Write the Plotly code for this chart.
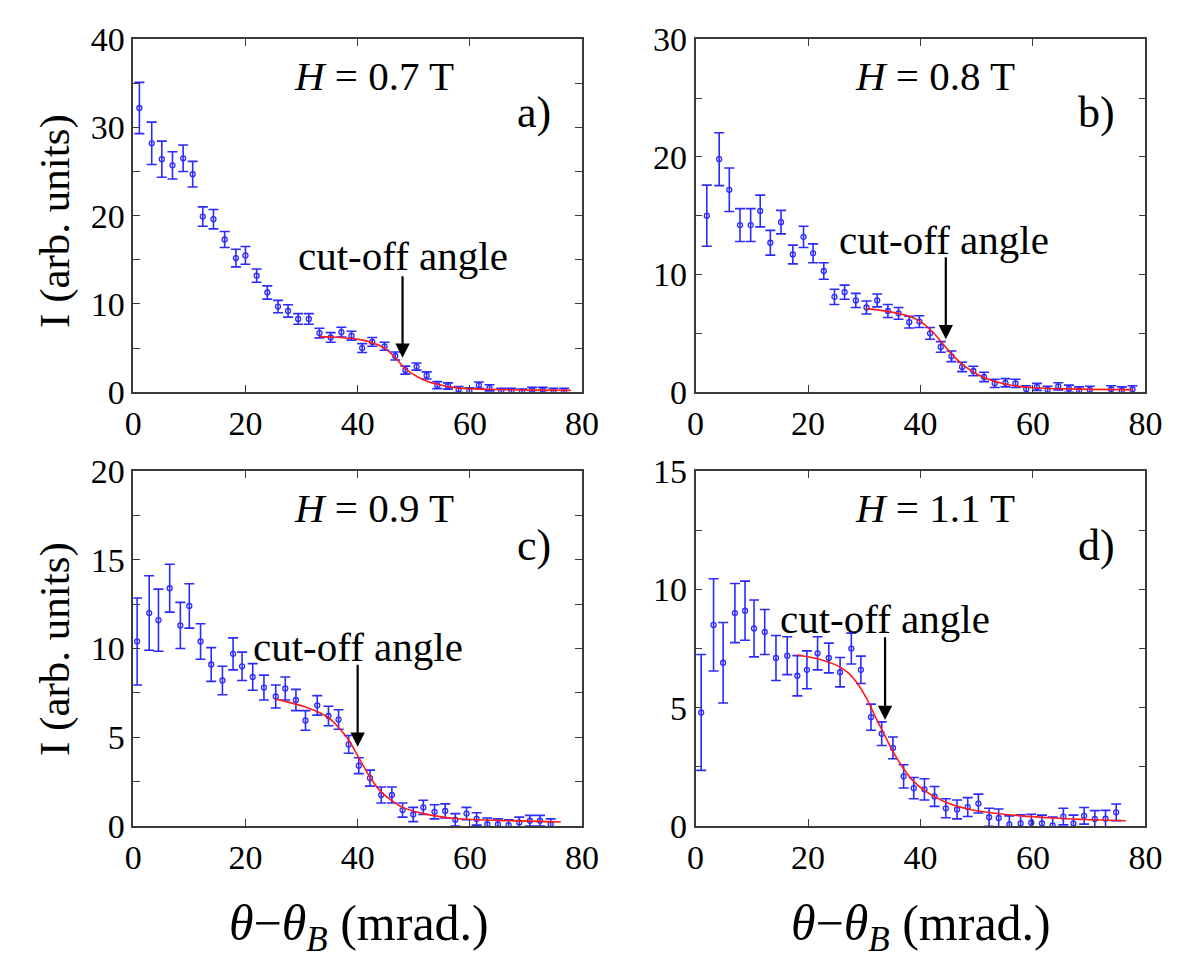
import plotly.graph_objects as go

# ---- measured intensity, H = 0.7 T ----
a_x = [1.1, 3.3, 5.1, 7.0, 8.9, 10.6, 12.4, 14.3, 16.3, 18.3, 20.0, 22.0, 23.9, 25.8, 27.6, 29.4,
       31.3, 33.2, 35.2, 37.1, 38.9, 40.8, 42.6, 44.8, 46.7, 48.5, 50.5, 52.3, 54.2, 56.1, 58.0,
       59.9, 61.6, 63.5, 65.6, 67.4, 69.3, 71.1, 73.0, 74.9, 76.8]
a_y = [32.2, 28.2, 26.4, 25.7, 26.5, 24.7, 19.9, 19.6, 17.3, 15.2, 15.5, 13.2, 11.3, 9.7, 9.2, 8.3,
       8.3, 6.7, 6.2, 6.8, 6.4, 5.0, 5.7, 5.2, 4.1, 2.5, 2.9, 1.9, 0.8, 0.7, 0.3,
       0.15, 0.8, 0.5, 0.15, 0.15, 0.05, 0.25, 0.25, 0.15, 0.15]
a_err = [2.9, 2.4, 2.05, 1.55, 1.5, 1.45, 1.1, 1.1, 0.9, 1.0, 1.0, 0.75, 0.75, 0.7, 0.7, 0.6,
         0.6, 0.55, 0.55, 0.55, 0.5, 0.5, 0.5, 0.45, 0.45, 0.45, 0.4, 0.4, 0.4, 0.35, 0.35,
         0.35, 0.35, 0.35, 0.3, 0.3, 0.3, 0.3, 0.3, 0.3, 0.3]
fit_a_x = [33.2, 37.0, 41.0, 43.0, 44.8, 46.7, 48.6, 50.5, 52.5, 54.5, 57.0, 60.0, 65.0, 70.0, 78.0]
fit_a_y = [6.3, 6.2, 5.9, 5.5, 5.0, 3.9, 2.6, 1.8, 1.2, 0.85, 0.55, 0.4, 0.3, 0.25, 0.2]

# ---- measured intensity, H = 0.8 T ----
b_x = [2.0, 4.2, 6.0, 7.9, 9.8, 11.5, 13.3, 15.2, 17.3, 19.2, 20.9, 22.8, 24.7, 26.5, 28.5, 30.4,
       32.3, 34.2, 36.1, 38.0, 39.8, 41.7, 43.6, 45.5, 47.4, 49.4, 51.3, 53.2, 55.1, 56.9, 58.8,
       60.7, 62.6, 64.5, 66.4, 68.2, 70.1, 73.9, 75.8, 77.7]
b_y = [15.0, 19.8, 17.2, 14.2, 14.2, 15.4, 12.7, 14.45, 11.7, 13.2, 11.8, 10.3, 8.1, 8.5, 7.8, 7.2,
       7.8, 6.9, 6.7, 5.95, 6.0, 5.0, 3.85, 3.05, 2.15, 1.8, 1.3, 0.75, 0.8, 0.75, 0.25,
       0.45, 0.2, 0.5, 0.3, 0.15, 0.2, 0.25, 0.15, 0.25]
b_err = [2.6, 2.25, 1.85, 1.4, 1.4, 1.35, 1.05, 1.0, 0.8, 0.9, 0.8, 0.7, 0.65, 0.6, 0.6, 0.55,
         0.55, 0.55, 0.5, 0.5, 0.5, 0.5, 0.45, 0.45, 0.4, 0.4, 0.4, 0.35, 0.35, 0.35, 0.3,
         0.3, 0.3, 0.3, 0.3, 0.3, 0.3, 0.3, 0.3, 0.3]
fit_b_x = [30.4, 33.0, 36.0, 38.0, 40.0, 42.0, 44.0, 46.0, 48.0, 50.0, 52.0, 55.0, 59.0, 66.0, 77.7]
fit_b_y = [7.1, 6.95, 6.7, 6.45, 6.0, 5.2, 4.1, 3.0, 2.15, 1.55, 1.1, 0.7, 0.42, 0.28, 0.22]

# ---- measured intensity, H = 0.9 T ----
c_x = [0.7, 2.85, 4.5, 6.5, 8.4, 10.0, 12.0, 13.9, 15.9, 17.8, 19.4, 21.3, 23.3, 25.4, 27.1, 29.0,
       30.7, 32.8, 34.8, 36.6, 38.4, 40.2, 42.2, 44.2, 46.1, 48.0, 49.9, 51.7, 53.7, 55.6, 57.4,
       59.4, 61.2, 63.1, 65.0, 66.9, 68.8, 70.7, 72.5, 74.4]
c_y = [10.4, 12.0, 11.6, 13.4, 11.3, 12.4, 10.4, 9.1, 8.2, 9.7, 9.0, 8.4, 7.8, 7.3, 7.75, 7.1,
       5.95, 6.8, 6.2, 6.0, 4.6, 3.4, 2.7, 1.75, 1.75, 0.9, 0.65, 1.05, 0.8, 0.85, 0.35,
       0.7, 0.4, 0.1, 0.1, 0.05, 0.2, 0.3, 0.3, 0.1]
c_err = [2.45, 2.1, 1.75, 1.35, 1.3, 1.25, 1.0, 0.95, 0.8, 0.9, 0.8, 0.75, 0.7, 0.65, 0.65, 0.6,
         0.55, 0.55, 0.55, 0.55, 0.5, 0.45, 0.45, 0.45, 0.45, 0.4, 0.4, 0.4, 0.4, 0.4, 0.35,
         0.35, 0.35, 0.35, 0.3, 0.3, 0.3, 0.3, 0.3, 0.3]
fit_c_x = [25.4, 30.7, 34.8, 36.6, 38.4, 40.2, 42.2, 44.1, 46.2, 48.0, 51.7, 57.4, 65.0, 76.2]
fit_c_y = [7.15, 6.7, 6.1, 5.55, 4.85, 3.85, 2.75, 1.95, 1.4, 1.05, 0.7, 0.42, 0.32, 0.23]

# ---- measured intensity, H = 1.1 T ----
d_x = [1.0, 3.2, 4.9, 7.0, 8.8, 10.4, 12.3, 14.3, 16.3, 18.1, 19.8, 21.7, 23.7, 25.7, 27.7, 29.4,
       31.2, 33.1, 35.1, 37.0, 38.8, 40.7, 42.5, 44.5, 46.5, 48.4, 50.3, 52.2, 53.9, 55.8, 57.8,
       59.7, 61.6, 63.5, 65.4, 67.2, 69.1, 71.0, 72.9, 74.8]
d_y = [4.8, 8.5, 6.9, 9.0, 9.1, 8.35, 8.2, 7.1, 7.2, 6.35, 6.6, 7.3, 7.1, 6.5, 7.5, 6.6,
       4.6, 3.9, 3.3, 2.1, 1.6, 1.55, 1.25, 0.75, 0.7, 0.8, 0.95, 0.37, 0.34, 0.07, 0.11,
       0.14, 0.11, 0.03, 0.4, 0.11, 0.43, 0.3, 0.31, 0.58]
d_err = [2.45, 1.95, 1.7, 1.25, 1.25, 1.2, 0.95, 0.95, 0.8, 0.85, 0.8, 0.7, 0.63, 0.62, 0.65, 0.58,
         0.55, 0.5, 0.46, 0.49, 0.45, 0.45, 0.42, 0.4, 0.4, 0.4, 0.4, 0.38, 0.38, 0.36, 0.36,
         0.36, 0.35, 0.35, 0.35, 0.35, 0.35, 0.35, 0.35, 0.35]
fit_d_x = [18.1, 22.0, 25.0, 27.0, 29.0, 30.5, 32.0, 33.5, 35.0, 36.5, 38.5, 41.0, 44.5, 48.4,
           54.0, 63.5, 76.5]
fit_d_y = [7.23, 7.05, 6.8, 6.5, 5.95, 5.35, 4.6, 3.9, 3.2, 2.6, 1.95, 1.45, 1.0, 0.72,
           0.52, 0.34, 0.22]

# panel labels, field values, y ranges and tick steps
panel_tags = ["a)", "b)", "c)", "d)"]
field_labels = ["0.7", "0.8", "0.9", "1.1"]
y_max = [40, 30, 20, 15]
y_tick_step = [5, 5, 2.5, 2.5]
y_label_step = [10, 10, 5, 5]
x_ticks = [0, 20, 40, 60, 80]
# cut-off arrows: x, tip y, tail y
cutoff_x = [48.0, 44.5, 40.0, 33.7]
cutoff_tip = [3.9, 4.5, 4.47, 4.48]
cutoff_tail = [13.3, 11.6, 9.17, 8.04]
# text placement inside each panel (axis-domain fractions)
field_pos = [(0.536, 0.896), (0.533, 0.896), (0.536, 0.897), (0.533, 0.897)]
tag_pos = [(0.893, 0.793), (0.891, 0.793), (0.893, 0.79), (0.891, 0.79)]
cutoff_text_pos = [(0.601, 0.385), (0.552, 0.432), (0.501, 0.505), (0.42, 0.583)]

series = [
    (a_x, a_y, a_err, fit_a_x, fit_a_y),
    (b_x, b_y, b_err, fit_b_x, fit_b_y),
    (c_x, c_y, c_err, fit_c_x, fit_c_y),
    (d_x, d_y, d_err, fit_d_x, fit_d_y),
]

W, H = 1182, 972
x_domains = [(127 / W, 586 / W), (702 / W, 1162 / W)]
y_domains = [(1 - 389 / H, 1 - 22 / H), (1 - 840 / H, 1 - 471 / H)]

SERIF = "Liberation Serif"
BLUE = "#2b2bff"
RED = "#ff1a1a"
FRAME = "#3a3a3a"

fig = go.Figure()
fig.update_layout(
    width=W, height=H,
    margin=dict(l=0, r=0, t=0, b=0),
    paper_bgcolor="white", plot_bgcolor="white",
    showlegend=False,
    font=dict(family=SERIF, color="black", size=34),
)

for i, (xs, ys, es, fx, fy) in enumerate(series):
    row, col = divmod(i, 2)
    n = i + 1
    xa = "xaxis" if n == 1 else f"xaxis{n}"
    ya = "yaxis" if n == 1 else f"yaxis{n}"
    xr = "x" if n == 1 else f"x{n}"
    yr = "y" if n == 1 else f"y{n}"

    fig.add_trace(go.Scatter(
        x=xs, y=ys, mode="markers", xaxis=xr, yaxis=yr,
        marker=dict(symbol="circle-open", size=5, color=BLUE, line=dict(width=1.3, color=BLUE)),
        error_y=dict(type="data", array=es, visible=True, color=BLUE, thickness=1.6, width=5),
    ))
    fig.add_trace(go.Scatter(
        x=fx, y=fy, mode="lines", xaxis=xr, yaxis=yr,
        line=dict(color=RED, width=1.6, shape="spline", smoothing=1.0),
    ))

    yt = []
    v = 0.0
    while v <= y_max[i] + 1e-9:
        yt.append(v)
        v += y_tick_step[i]
    ytext = [(f"{int(t)}" if abs(t / y_label_step[i] - round(t / y_label_step[i])) < 1e-9 else "") for t in yt]

    axis_common = dict(
        showline=True, linecolor=FRAME, linewidth=1.5, mirror="ticks",
        ticks="inside", ticklen=7, tickwidth=1.2, tickcolor=FRAME,
        showgrid=False, zeroline=False,
        tickfont=dict(family=SERIF, size=34, color="black"),
    )
    fig.update_layout({
        xa: dict(axis_common, domain=x_domains[col], anchor=yr, range=[0, 80],
                 tickvals=x_ticks, ticktext=[str(t) for t in x_ticks]),
        ya: dict(axis_common, domain=y_domains[row], anchor=xr, range=[0, y_max[i]],
                 tickvals=yt, ticktext=ytext),
    })

    # field label
    fx_, fy_ = field_pos[i]
    fig.add_annotation(
        text=f"<i>H</i> = {field_labels[i]} T", xref=f"{xr} domain", yref=f"{yr} domain",
        x=fx_, y=fy_, showarrow=False, xanchor="center", yanchor="middle",
        font=dict(family=SERIF, size=41, color="black"),
    )
    # panel tag
    tx_, ty_ = tag_pos[i]
    fig.add_annotation(
        text=panel_tags[i], xref=f"{xr} domain", yref=f"{yr} domain",
        x=tx_, y=ty_, showarrow=False, xanchor="center", yanchor="middle",
        font=dict(family=SERIF, size=44, color="black"),
    )
    # cut-off text
    cx_, cy_ = cutoff_text_pos[i]
    fig.add_annotation(
        text="cut-off angle", xref=f"{xr} domain", yref=f"{yr} domain",
        x=cx_, y=cy_, showarrow=False, xanchor="center", yanchor="middle",
        font=dict(family=SERIF, size=41, color="black"),
    )
    # cut-off arrow
    fig.add_annotation(
        text="", x=cutoff_x[i], y=cutoff_tip[i], xref=xr, yref=yr,
        ax=cutoff_x[i], ay=cutoff_tail[i], axref=xr, ayref=yr,
        showarrow=True, arrowhead=2, arrowsize=1.3, arrowwidth=2.2, arrowcolor="black",
    )

# shared axis titles
for yc in (1 - 211 / H, 1 - 656 / H):
    fig.add_annotation(
        text="I (arb. units)", xref="paper", yref="paper", x=47 / W, y=yc,
        showarrow=False, textangle=-90, xanchor="center", yanchor="middle",
        font=dict(family=SERIF, size=43, color="black"),
    )
for xc in (358 / W, 933 / W):
    fig.add_annotation(
        text="<i>θ</i>−<i>θ</i><sub><i>B</i></sub> (mrad.)", xref="paper", yref="paper",
        x=xc, y=1 - 945 / H, showarrow=False, xanchor="center", yanchor="middle",
        font=dict(family=SERIF, size=50, color="black"),
    )

fig.write_html("out.html")
